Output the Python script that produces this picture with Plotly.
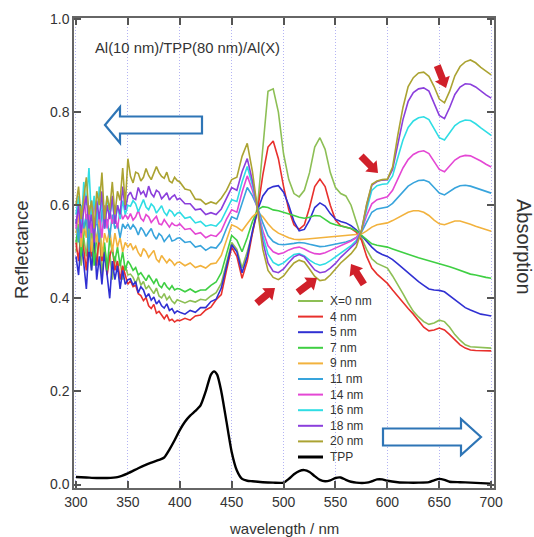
import plotly.graph_objects as go

# Wavelength grid (nm): 2.5 nm steps over the noisy UV part, 5 nm afterwards
wavelength = [300, 302.5, 305, 307.5, 310, 312.5, 315, 317.5, 320, 322.5,
              325, 327.5, 330, 332.5, 335, 337.5, 340, 342.5, 345, 347.5,
              350, 352.5, 355, 357.5, 360, 362.5, 365, 367.5, 370, 372.5,
              375, 377.5, 380, 382.5, 385, 387.5, 390, 392.5, 395, 397.5,
              400, 405, 410, 415, 420, 425, 430, 435, 440, 445,
              450, 455, 460, 465, 470, 475, 480, 485, 490, 495,
              500, 505, 510, 515, 520, 525, 530, 535, 540, 545,
              550, 555, 560, 565, 570, 575, 580, 585, 590, 595,
              600, 605, 610, 615, 620, 625, 630, 635, 640, 645,
              650, 655, 660, 665, 670, 675, 680, 685, 690, 695,
              700]

# Reflectance of Al(10 nm)/TPP(80 nm)/Al(X) for each top-Al thickness X
refl_0nm = [0.50, 0.55, 0.47, 0.53, 0.49, 0.56, 0.46, 0.52, 0.48, 0.54,
            0.45, 0.51, 0.47, 0.50, 0.44, 0.49, 0.46, 0.48, 0.44, 0.47,
            0.45, 0.452, 0.445, 0.432, 0.447, 0.428, 0.436, 0.42, 0.427, 0.418,
            0.41, 0.422, 0.405, 0.401, 0.41, 0.397, 0.404, 0.394, 0.389, 0.397,
            0.395, 0.390, 0.395, 0.392, 0.398, 0.396, 0.405, 0.412, 0.432, 0.475,
            0.520, 0.505, 0.465, 0.500, 0.540, 0.600, 0.720, 0.845, 0.850, 0.800,
            0.710, 0.655, 0.625, 0.618, 0.632, 0.670, 0.725, 0.745, 0.720, 0.670,
            0.638, 0.625, 0.620, 0.600, 0.565, 0.530, 0.505, 0.485, 0.475, 0.470,
            0.465, 0.448, 0.430, 0.410, 0.390, 0.372, 0.360, 0.350, 0.344, 0.347,
            0.353, 0.350, 0.338, 0.322, 0.310, 0.300, 0.296, 0.295, 0.294, 0.293,
            0.293]
refl_4nm = [0.52, 0.48, 0.55, 0.50, 0.46, 0.53, 0.49, 0.51, 0.47, 0.54,
            0.48, 0.50, 0.45, 0.49, 0.51, 0.46, 0.48, 0.44, 0.47, 0.45,
            0.43, 0.438, 0.425, 0.428, 0.41, 0.406, 0.395, 0.402, 0.384, 0.378,
            0.387, 0.368, 0.372, 0.364, 0.356, 0.365, 0.352, 0.355, 0.349, 0.353,
            0.352, 0.357, 0.353, 0.362, 0.364, 0.375, 0.381, 0.397, 0.408, 0.460,
            0.510, 0.490, 0.443, 0.480, 0.540, 0.590, 0.665, 0.725, 0.738, 0.700,
            0.640, 0.590, 0.558, 0.548, 0.558, 0.595, 0.640, 0.656, 0.640, 0.600,
            0.568, 0.556, 0.553, 0.550, 0.542, 0.525, 0.490, 0.465, 0.452, 0.442,
            0.432, 0.418, 0.404, 0.390, 0.378, 0.366, 0.351, 0.338, 0.330, 0.332,
            0.336, 0.332, 0.322, 0.310, 0.300, 0.293, 0.289, 0.288, 0.288, 0.287,
            0.287]
refl_5nm = [0.49, 0.45, 0.53, 0.47, 0.42, 0.51, 0.46, 0.54, 0.44, 0.49,
            0.43, 0.50, 0.45, 0.40, 0.48, 0.44, 0.47, 0.42, 0.46, 0.43,
            0.44, 0.442, 0.428, 0.436, 0.412, 0.425, 0.418, 0.402, 0.41, 0.396,
            0.403, 0.388, 0.395, 0.384, 0.379, 0.388, 0.374, 0.378, 0.368, 0.373,
            0.370, 0.366, 0.374, 0.370, 0.380, 0.380, 0.393, 0.398, 0.422, 0.470,
            0.515, 0.500, 0.455, 0.490, 0.545, 0.590, 0.620, 0.635, 0.640, 0.642,
            0.628, 0.600, 0.565, 0.545, 0.548, 0.568, 0.595, 0.605, 0.598, 0.582,
            0.570, 0.565, 0.562, 0.556, 0.547, 0.535, 0.522, 0.510, 0.500, 0.494,
            0.490, 0.483, 0.474, 0.464, 0.454, 0.445, 0.436, 0.428, 0.420, 0.418,
            0.417, 0.414, 0.405, 0.396, 0.388, 0.380, 0.375, 0.370, 0.366, 0.364,
            0.362]
refl_7nm = [0.52, 0.56, 0.49, 0.54, 0.58, 0.50, 0.55, 0.47, 0.53, 0.57,
            0.49, 0.52, 0.46, 0.53, 0.50, 0.48, 0.51, 0.47, 0.50, 0.46,
            0.48, 0.472, 0.46, 0.466, 0.45, 0.455, 0.447, 0.438, 0.45, 0.44,
            0.432, 0.442, 0.428, 0.423, 0.434, 0.425, 0.419, 0.427, 0.418, 0.421,
            0.420, 0.414, 0.420, 0.413, 0.418, 0.418, 0.428, 0.435, 0.455, 0.495,
            0.535, 0.525, 0.500, 0.530, 0.565, 0.590, 0.597, 0.595, 0.590, 0.588,
            0.585, 0.582, 0.578, 0.574, 0.572, 0.574, 0.578, 0.577, 0.570, 0.562,
            0.558, 0.555, 0.553, 0.550, 0.545, 0.535, 0.525, 0.517, 0.514, 0.512,
            0.510, 0.506, 0.502, 0.498, 0.494, 0.490, 0.487, 0.484, 0.481, 0.478,
            0.475, 0.472, 0.468, 0.464, 0.460, 0.456, 0.452, 0.450, 0.447, 0.445,
            0.443]
refl_9nm = [0.54, 0.58, 0.51, 0.56, 0.53, 0.60, 0.50, 0.55, 0.52, 0.57,
            0.49, 0.54, 0.52, 0.55, 0.50, 0.54, 0.51, 0.53, 0.50, 0.52,
            0.51, 0.518, 0.505, 0.512, 0.498, 0.49, 0.507, 0.50, 0.488, 0.495,
            0.503, 0.484, 0.478, 0.492, 0.485, 0.476, 0.484, 0.479, 0.471, 0.477,
            0.478, 0.470, 0.476, 0.466, 0.470, 0.465, 0.474, 0.476, 0.492, 0.525,
            0.558, 0.553, 0.545, 0.560, 0.575, 0.585, 0.575, 0.560, 0.548, 0.540,
            0.535, 0.530, 0.527, 0.526, 0.527, 0.528, 0.529, 0.530, 0.530, 0.531,
            0.532, 0.533, 0.534, 0.535, 0.536, 0.538, 0.545, 0.553, 0.558, 0.560,
            0.562, 0.567, 0.573, 0.580, 0.585, 0.588, 0.588, 0.585, 0.578, 0.568,
            0.560, 0.558, 0.562, 0.566, 0.566, 0.563, 0.559, 0.555, 0.551, 0.547,
            0.544]
refl_11nm = [0.57, 0.52, 0.60, 0.55, 0.58, 0.50, 0.61, 0.54, 0.57, 0.52,
             0.59, 0.55, 0.57, 0.53, 0.58, 0.55, 0.56, 0.53, 0.56, 0.55,
             0.56, 0.548, 0.558, 0.55, 0.536, 0.552, 0.545, 0.533, 0.542, 0.55,
             0.535, 0.527, 0.539, 0.534, 0.522, 0.53, 0.536, 0.523, 0.525, 0.529,
             0.530, 0.520, 0.522, 0.510, 0.513, 0.503, 0.510, 0.508, 0.522, 0.550,
             0.575, 0.570, 0.605, 0.638, 0.620, 0.595, 0.562, 0.535, 0.522, 0.516,
             0.515, 0.516, 0.518, 0.520, 0.519, 0.516, 0.513, 0.511, 0.512, 0.514,
             0.516, 0.518, 0.521, 0.525, 0.531, 0.542, 0.565, 0.585, 0.592, 0.594,
             0.596, 0.604, 0.616, 0.630, 0.641, 0.648, 0.653, 0.654, 0.650, 0.638,
             0.626, 0.622, 0.629, 0.637, 0.642, 0.643, 0.641, 0.637, 0.633, 0.630,
             0.626]
refl_14nm = [0.55, 0.60, 0.53, 0.62, 0.57, 0.59, 0.54, 0.61, 0.56, 0.58,
             0.53, 0.60, 0.55, 0.59, 0.56, 0.58, 0.55, 0.59, 0.57, 0.58,
             0.57, 0.582, 0.568, 0.575, 0.589, 0.572, 0.566, 0.58, 0.575, 0.563,
             0.57, 0.576, 0.56, 0.558, 0.569, 0.561, 0.553, 0.562, 0.557, 0.556,
             0.560, 0.548, 0.550, 0.538, 0.541, 0.530, 0.536, 0.533, 0.545, 0.570,
             0.590, 0.585, 0.628, 0.663, 0.632, 0.592, 0.545, 0.513, 0.500, 0.495,
             0.498, 0.504, 0.508, 0.510, 0.506, 0.500, 0.496, 0.495, 0.498, 0.503,
             0.508, 0.513, 0.518, 0.523, 0.530, 0.545, 0.578, 0.603, 0.612, 0.615,
             0.618, 0.632, 0.656, 0.680, 0.698, 0.709, 0.715, 0.717, 0.711, 0.695,
             0.677, 0.672, 0.684, 0.697, 0.704, 0.707, 0.706, 0.701, 0.695, 0.688,
             0.682]
refl_16nm = [0.58, 0.62, 0.55, 0.65, 0.60, 0.68, 0.57, 0.62, 0.56, 0.64,
             0.59, 0.55, 0.62, 0.58, 0.61, 0.56, 0.60, 0.57, 0.61, 0.58,
             0.60, 0.598, 0.61, 0.603, 0.586, 0.60, 0.612, 0.596, 0.59, 0.603,
             0.597, 0.583, 0.592, 0.599, 0.585, 0.578, 0.59, 0.586, 0.577, 0.583,
             0.585, 0.572, 0.575, 0.562, 0.565, 0.555, 0.558, 0.555, 0.567, 0.590,
             0.612, 0.608, 0.650, 0.683, 0.643, 0.592, 0.535, 0.495, 0.477, 0.471,
             0.476, 0.486, 0.494, 0.496, 0.491, 0.482, 0.475, 0.471, 0.474, 0.481,
             0.489, 0.496, 0.504, 0.513, 0.524, 0.545, 0.590, 0.632, 0.642, 0.645,
             0.646, 0.663, 0.702, 0.740, 0.767, 0.781, 0.788, 0.790, 0.784, 0.765,
             0.745, 0.740, 0.755, 0.771, 0.779, 0.783, 0.782, 0.775, 0.766, 0.758,
             0.750]
refl_18nm = [0.56, 0.60, 0.54, 0.59, 0.62, 0.55, 0.58, 0.52, 0.61, 0.57,
             0.63, 0.55, 0.60, 0.57, 0.62, 0.56, 0.60, 0.58, 0.64, 0.59,
             0.62, 0.628, 0.615, 0.612, 0.638, 0.624, 0.63, 0.617, 0.641, 0.625,
             0.618, 0.632, 0.628, 0.614, 0.62, 0.627, 0.611, 0.618, 0.622, 0.612,
             0.615, 0.603, 0.603, 0.590, 0.592, 0.580, 0.584, 0.580, 0.592, 0.615,
             0.638, 0.632, 0.672, 0.700, 0.652, 0.593, 0.522, 0.476, 0.458, 0.455,
             0.463, 0.477, 0.489, 0.494, 0.489, 0.475, 0.461, 0.455, 0.457, 0.465,
             0.475, 0.488, 0.499, 0.509, 0.520, 0.545, 0.600, 0.643, 0.651, 0.654,
             0.655, 0.677, 0.730, 0.784, 0.823, 0.842, 0.850, 0.852, 0.845, 0.820,
             0.793, 0.786, 0.810, 0.838, 0.854, 0.861, 0.860, 0.854, 0.845, 0.837,
             0.830]
refl_20nm = [0.60, 0.64, 0.57, 0.62, 0.66, 0.58, 0.61, 0.55, 0.63, 0.60,
             0.67, 0.57, 0.62, 0.59, 0.65, 0.58, 0.63, 0.61, 0.68, 0.60,
             0.70, 0.662, 0.648, 0.671, 0.668, 0.652, 0.66, 0.679, 0.664, 0.655,
             0.668, 0.683, 0.67, 0.662, 0.658, 0.671, 0.652, 0.648, 0.66, 0.653,
             0.650, 0.635, 0.632, 0.613, 0.612, 0.602, 0.607, 0.603, 0.615, 0.632,
             0.655, 0.660, 0.705, 0.733, 0.672, 0.593, 0.505, 0.460, 0.445, 0.440,
             0.448, 0.463, 0.476, 0.482, 0.478, 0.463, 0.447, 0.438, 0.440, 0.450,
             0.463, 0.476, 0.486, 0.496, 0.510, 0.545, 0.602, 0.645, 0.652, 0.655,
             0.656, 0.682, 0.750, 0.810, 0.855, 0.874, 0.884, 0.886, 0.877, 0.855,
             0.828, 0.820, 0.845, 0.878, 0.898, 0.908, 0.912, 0.906, 0.896, 0.888,
             0.880]

series_names = ["X=0 nm", "4 nm", "5 nm", "7 nm", "9 nm",
                "11 nm", "14 nm", "16 nm", "18 nm", "20 nm"]
series_values = [refl_0nm, refl_4nm, refl_5nm, refl_7nm, refl_9nm,
                 refl_11nm, refl_14nm, refl_16nm, refl_18nm, refl_20nm]

# Absorption spectrum of a bare TPP film (arbitrary units on the same scale)
tpp_wavelength = [300, 310, 320, 330, 340, 350, 360, 370, 380, 385,
                  390, 395, 400, 405, 410, 415, 420, 425, 430, 433,
                  436, 440, 445, 450, 455, 460, 465, 470, 480, 490,
                  500, 505, 510, 515, 520, 525, 530, 535, 540, 545,
                  550, 555, 560, 565, 570, 580, 585, 590, 595, 600,
                  610, 620, 630, 640, 645, 650, 655, 660, 670, 680,
                  690, 700]
tpp_absorption = [0.016, 0.015, 0.014, 0.014, 0.016, 0.024, 0.035, 0.045, 0.053, 0.058,
                  0.075, 0.095, 0.117, 0.135, 0.148, 0.158, 0.170, 0.200, 0.236, 0.243,
                  0.236, 0.200, 0.135, 0.070, 0.030, 0.012, 0.008, 0.007, 0.005, 0.004,
                  0.004, 0.012, 0.022, 0.029, 0.031, 0.027, 0.018, 0.010, 0.007, 0.009,
                  0.014, 0.015, 0.010, 0.006, 0.004, 0.004, 0.007, 0.011, 0.011, 0.008,
                  0.005, 0.004, 0.004, 0.005, 0.009, 0.012, 0.010, 0.006, 0.005, 0.004,
                  0.003, 0.002]

x_ticks = [300, 350, 400, 450, 500, 550, 600, 650, 700]
y_ticks = [0.0, 0.2, 0.4, 0.6, 0.8, 1.0]

for vals in series_values:
    assert len(vals) == len(wavelength), len(vals)
assert len(tpp_wavelength) == len(tpp_absorption)

line_colors = ["#8dbf55", "#e8302c", "#3030d2", "#3fcf43", "#f2b23d",
               "#38a4dc", "#e447d4", "#2fdde4", "#8b3fdc", "#aba332"]

FONT = "Liberation Sans, Arial, sans-serif"
TEXT = "#333333"
W, H = 534, 537
L, R, T, B = 74, 494, 18, 488  # plot-area box in pixels


def px(xp):
    return (xp - L) / (R - L)


def py(yp):
    return (B - yp) / (B - T)


fig = go.Figure()
for name, vals, col in zip(series_names, series_values, line_colors):
    fig.add_trace(go.Scatter(x=wavelength, y=vals, mode="lines", name=name,
                             line=dict(color=col, width=1.6), showlegend=False))
fig.add_trace(go.Scatter(x=tpp_wavelength, y=tpp_absorption, mode="lines", name="TPP",
                         line=dict(color="black", width=2.4, shape="spline", smoothing=0.6),
                         showlegend=False))

shapes = []
annotations = []

# Hand-placed legend: short line sample + label for each entry
legend_entries = list(zip(series_names, line_colors)) + [("TPP", "black")]
for i, (name, col) in enumerate(legend_entries):
    yy = 301 + 15.6 * i
    shapes.append(dict(type="line", xref="paper", yref="paper",
                       x0=px(298), x1=px(323), y0=py(yy), y1=py(yy),
                       line=dict(color=col, width=3 if name == "TPP" else 2)))
    annotations.append(dict(text=name, xref="paper", yref="paper",
                            x=px(328), y=py(yy), xanchor="left", yanchor="middle",
                            showarrow=False, font=dict(family=FONT, size=12, color=TEXT)))


def polygon(points):
    return "M " + " L ".join(f"{a:.1f},{b:.1f}" for a, b in points) + " Z"


def red_arrow(tip_x, tip_y, dx, dy, length=24, body=3.6, head_len=10, head=8):
    # dx, dy: screen direction from tail to tip (y downwards)
    n = (dx * dx + dy * dy) ** 0.5
    vx, vy = dx / n, -dy / n
    nx, ny = -vy, vx
    local = [(-length, -body), (-head_len, -body), (-head_len, -head), (0, 0),
             (-head_len, head), (-head_len, body), (-length, body)]
    pts = [(a * vx + b * nx, a * vy + b * ny) for a, b in local]
    return dict(type="path", xref="paper", yref="paper", xsizemode="pixel", ysizemode="pixel",
                xanchor=px(tip_x), yanchor=py(tip_y), path=polygon(pts),
                fillcolor="#d0202a", line=dict(width=0), layer="above")


for tip_x, tip_y, dx, dy in [(446, 88, 9, 23), (378, 173, 16, 16), (351, 264, -12, -19),
                             (275, 288, 18, -15), (317, 278, 20, -15)]:
    shapes.append(red_arrow(tip_x, tip_y, dx, dy))

# Hollow blue block arrows (left: reflectance axis, right: absorption axis)
blue = dict(color="#2e75b6", width=2.2)
shapes.append(dict(type="path", xref="paper", yref="paper", xsizemode="pixel", ysizemode="pixel",
                   xanchor=px(105), yanchor=py(125), line=blue, fillcolor="white",
                   path=polygon([(0, 0), (15, 18), (15, 8.5), (97, 8.5),
                                 (97, -8.5), (15, -8.5), (15, -18)])))
shapes.append(dict(type="path", xref="paper", yref="paper", xsizemode="pixel", ysizemode="pixel",
                   xanchor=px(481), yanchor=py(437), line=blue, fillcolor="white",
                   path=polygon([(0, 0), (-20, 18), (-20, 8.5), (-98, 8.5),
                                 (-98, -8.5), (-20, -8.5), (-20, -18)])))

# Sample label and axis titles
annotations.append(dict(text="Al(10 nm)/TPP(80 nm)/Al(X)", xref="paper", yref="paper",
                        x=px(93), y=py(48), xanchor="left", yanchor="middle", showarrow=False,
                        font=dict(family=FONT, size=14.8, color=TEXT)))
annotations.append(dict(text="Reflectance", xref="paper", yref="paper",
                        x=px(21), y=py(250), xanchor="center", yanchor="middle",
                        textangle=-90, showarrow=False, font=dict(family=FONT, size=18.7, color=TEXT)))
annotations.append(dict(text="Absorption", xref="paper", yref="paper",
                        x=px(524), y=py(247), xanchor="center", yanchor="middle",
                        textangle=90, showarrow=False, font=dict(family=FONT, size=20, color=TEXT)))
annotations.append(dict(text="wavelength / nm", xref="paper", yref="paper",
                        x=px(284), y=py(528), xanchor="center", yanchor="middle",
                        showarrow=False, font=dict(family=FONT, size=15, color=TEXT)))

axis_common = dict(showline=True, linecolor="#666666", linewidth=1.5, mirror="ticks",
                   ticks="inside", ticklen=7, tickwidth=1.5, tickcolor="#555555",
                   zeroline=False, tickfont=dict(family=FONT, size=14, color=TEXT))

fig.update_layout(
    width=W, height=H,
    margin=dict(l=L, r=W - R, t=T, b=H - B),
    plot_bgcolor="white", paper_bgcolor="white",
    showlegend=False,
    xaxis=dict(range=[298.1, 702.7], tickvals=x_ticks,
               showgrid=True, gridcolor="#b4b4f4", griddash="1px,2px", gridwidth=1,
               **axis_common),
    yaxis=dict(range=[-0.0075, 1.0022], tickvals=y_ticks, tickformat=".1f",
               showgrid=False, **axis_common),
    shapes=shapes,
    annotations=annotations,
)

fig.write_html("out.html")
